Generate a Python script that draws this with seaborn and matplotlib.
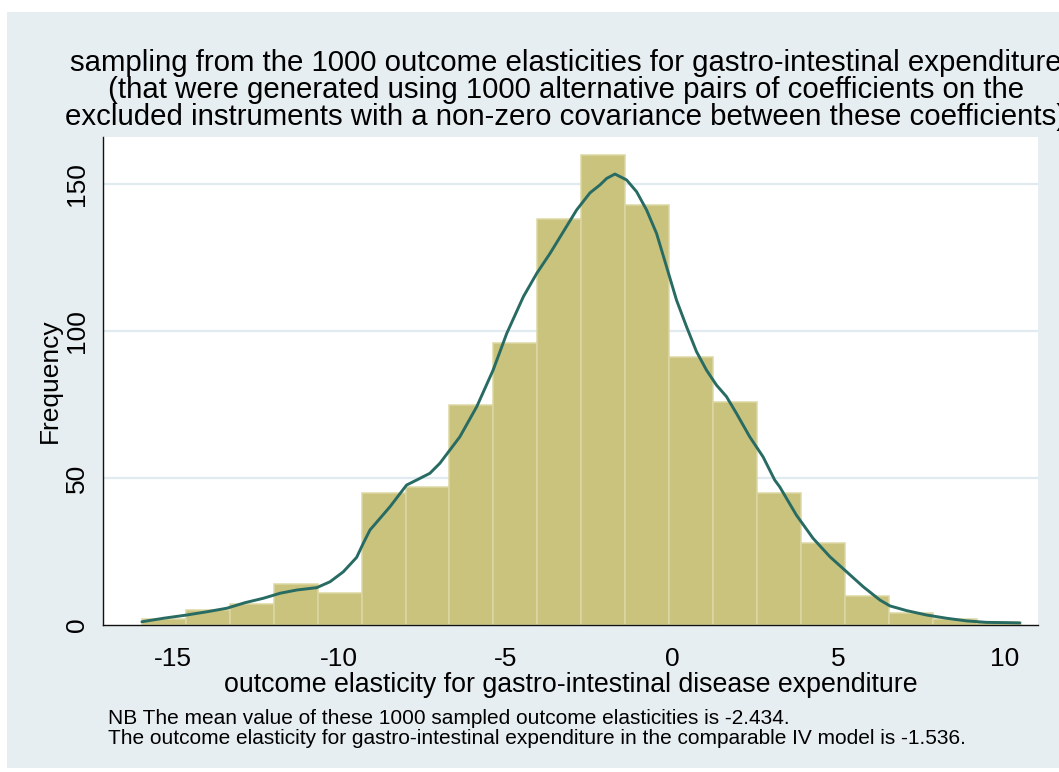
import numpy as np
import pandas as pd
import matplotlib
matplotlib.use("Agg")
import matplotlib.pyplot as plt
from matplotlib.patches import Rectangle
import seaborn as sns

# Histogram of the 1000 sampled elasticities: 20 equal-width bins spanning the sample range
sample_min = -15.93
sample_max = 10.47
n_bins = 20
bin_counts = [2, 5, 7, 14, 11, 45, 47, 75, 96, 138,
              160, 143, 91, 76, 45, 28, 10, 4, 2, 1]

# Kernel density of the same sample, expressed in frequency units
kde_x = [-15.93, -15.28, -14.58, -13.98, -13.38, -12.83, -12.28, -11.78, -11.28, -10.68,
         -10.28, -9.88, -9.48, -9.28, -9.08, -8.48, -7.98, -7.68, -7.28, -6.98,
         -6.38, -5.87, -5.38, -4.97, -4.47, -4.07, -3.67, -3.27, -2.87, -2.47,
         -2.17, -1.97, -1.72, -1.37, -1.07, -0.77, -0.47, -0.17, 0.13, 0.43,
         0.73, 1.03, 1.33, 1.63, 1.93, 2.33, 2.73, 3.08, 3.23, 3.73,
         4.23, 4.74, 5.24, 5.74, 6.24, 6.54, 7.04, 7.64, 8.24, 8.84,
         9.44, 10.04, 10.44]
kde_y = [1.1, 2.3, 3.4, 4.5, 5.7, 7.6, 9.1, 10.8, 11.9, 12.7,
         14.7, 18.1, 23.0, 27.8, 32.3, 40.2, 47.6, 49.3, 51.6, 55.0,
         64.0, 74.3, 86.7, 99.2, 111.7, 119.6, 126.4, 133.8, 141.2, 147.0,
         149.7, 151.9, 153.4, 151.4, 147.4, 141.2, 133.2, 121.9, 110.5, 101.5,
         93.0, 86.7, 81.6, 77.7, 72.0, 64.0, 57.2, 49.3, 47.0, 37.4,
         29.5, 23.2, 18.1, 13.0, 8.5, 6.5, 4.9, 3.4, 2.3, 1.4,
         0.9, 0.8, 0.7]

x_ticks = [-15, -10, -5, 0, 5, 10]
y_ticks = [0, 50, 100, 150]

title_lines = [
    "sampling from the 1000 outcome elasticities for gastro-intestinal expenditure",
    "(that were generated using 1000 alternative pairs of coefficients on the",
    "excluded instruments with a non-zero covariance between these coefficients)",
]
x_label = "outcome elasticity for gastro-intestinal disease expenditure"
y_label = "Frequency"
notes = [
    "NB The mean value of these 1000 sampled outcome elasticities is -2.434.",
    "The outcome elasticity for gastro-intestinal expenditure in the comparable IV model is -1.536.",
]

# Styling
region_color = "#E7EEF1"
grid_color = "#E1EAEE"
bar_fill = "#C9C37E"
bar_edge = "#DCD7A3"
line_color = "#286B63"

sns.set_style("white")
plt.rcParams["font.family"] = ["Liberation Sans", "DejaVu Sans"]

W, H = 1059, 772
fig = plt.figure(figsize=(W / 100, H / 100), dpi=100, facecolor="white")

# Outer graph region, drawn beneath the axes
fig.patches.append(Rectangle((7 / W, 1 - 768 / H), 1 - 7 / W, (768 - 12) / H,
                             transform=fig.transFigure, facecolor=region_color,
                             edgecolor="none", zorder=-5))

ax_left, ax_right = 103.3 / W, 1037.7 / W
ax_bottom, ax_top = 1 - 625 / H, 1 - 137 / H
ax = fig.add_axes([ax_left, ax_bottom, ax_right - ax_left, ax_top - ax_bottom])
ax.set_facecolor("white")

bin_width = (sample_max - sample_min) / n_bins
centers = sample_min + bin_width * (np.arange(n_bins) + 0.5)
hist_df = pd.DataFrame({"elasticity": centers, "count": bin_counts})
sns.histplot(data=hist_df, x="elasticity", weights="count", bins=n_bins,
             binrange=(sample_min, sample_max), stat="count",
             color=bar_fill, edgecolor=bar_edge, linewidth=1.1, alpha=1, ax=ax, zorder=2)

kde_df = pd.DataFrame({"elasticity": kde_x, "frequency": kde_y})
sns.lineplot(data=kde_df, x="elasticity", y="frequency", color=line_color,
             linewidth=2.1, ax=ax, zorder=3)

ax.set_xlim(-17.09, 10.98)
ax.set_ylim(0, 166)
ax.set_xticks(x_ticks)
ax.set_yticks(y_ticks)
ax.set_xticklabels([str(t) for t in x_ticks])
ax.set_yticklabels([str(t) for t in y_ticks])

ax.set_axisbelow(True)
for t in y_ticks[1:]:
    ax.axhline(t, color=grid_color, linewidth=1.6, zorder=0.5)

for side in ("top", "right"):
    ax.spines[side].set_visible(False)
for side in ("left", "bottom"):
    ax.spines[side].set_color("#111111")
    ax.spines[side].set_linewidth(1.0)

ax.tick_params(axis="both", which="major", direction="out", length=7.5, width=1.0,
               color="#444444", labelsize=19, labelcolor="black")
ax.tick_params(axis="x", pad=8)
ax.tick_params(axis="y", pad=3, labelrotation=90)
for lab in ax.get_yticklabels():
    lab.set_va("center")

ax.set_xlabel(x_label, fontsize=19.3, color="black", va="baseline")
ax.xaxis.set_label_coords(0.5, -(692 - 625) / 488)
ax.set_ylabel(y_label, fontsize=19, color="black", va="center")
ax.yaxis.set_label_coords(-(103.3 - 50) / 934.4, 0.5)

title_baselines = [71, 98, 125]
for line, yb in zip(title_lines, title_baselines):
    fig.text(566 / W, 1 - yb / H, line, ha="center", va="baseline", fontsize=21.2,
             color="black")

for line, yb in zip(notes, [724, 743.5]):
    fig.text(108 / W, 1 - yb / H, line, ha="left", va="baseline", fontsize=15,
             color="black")

fig.savefig("out.png", dpi=100, facecolor="white")
